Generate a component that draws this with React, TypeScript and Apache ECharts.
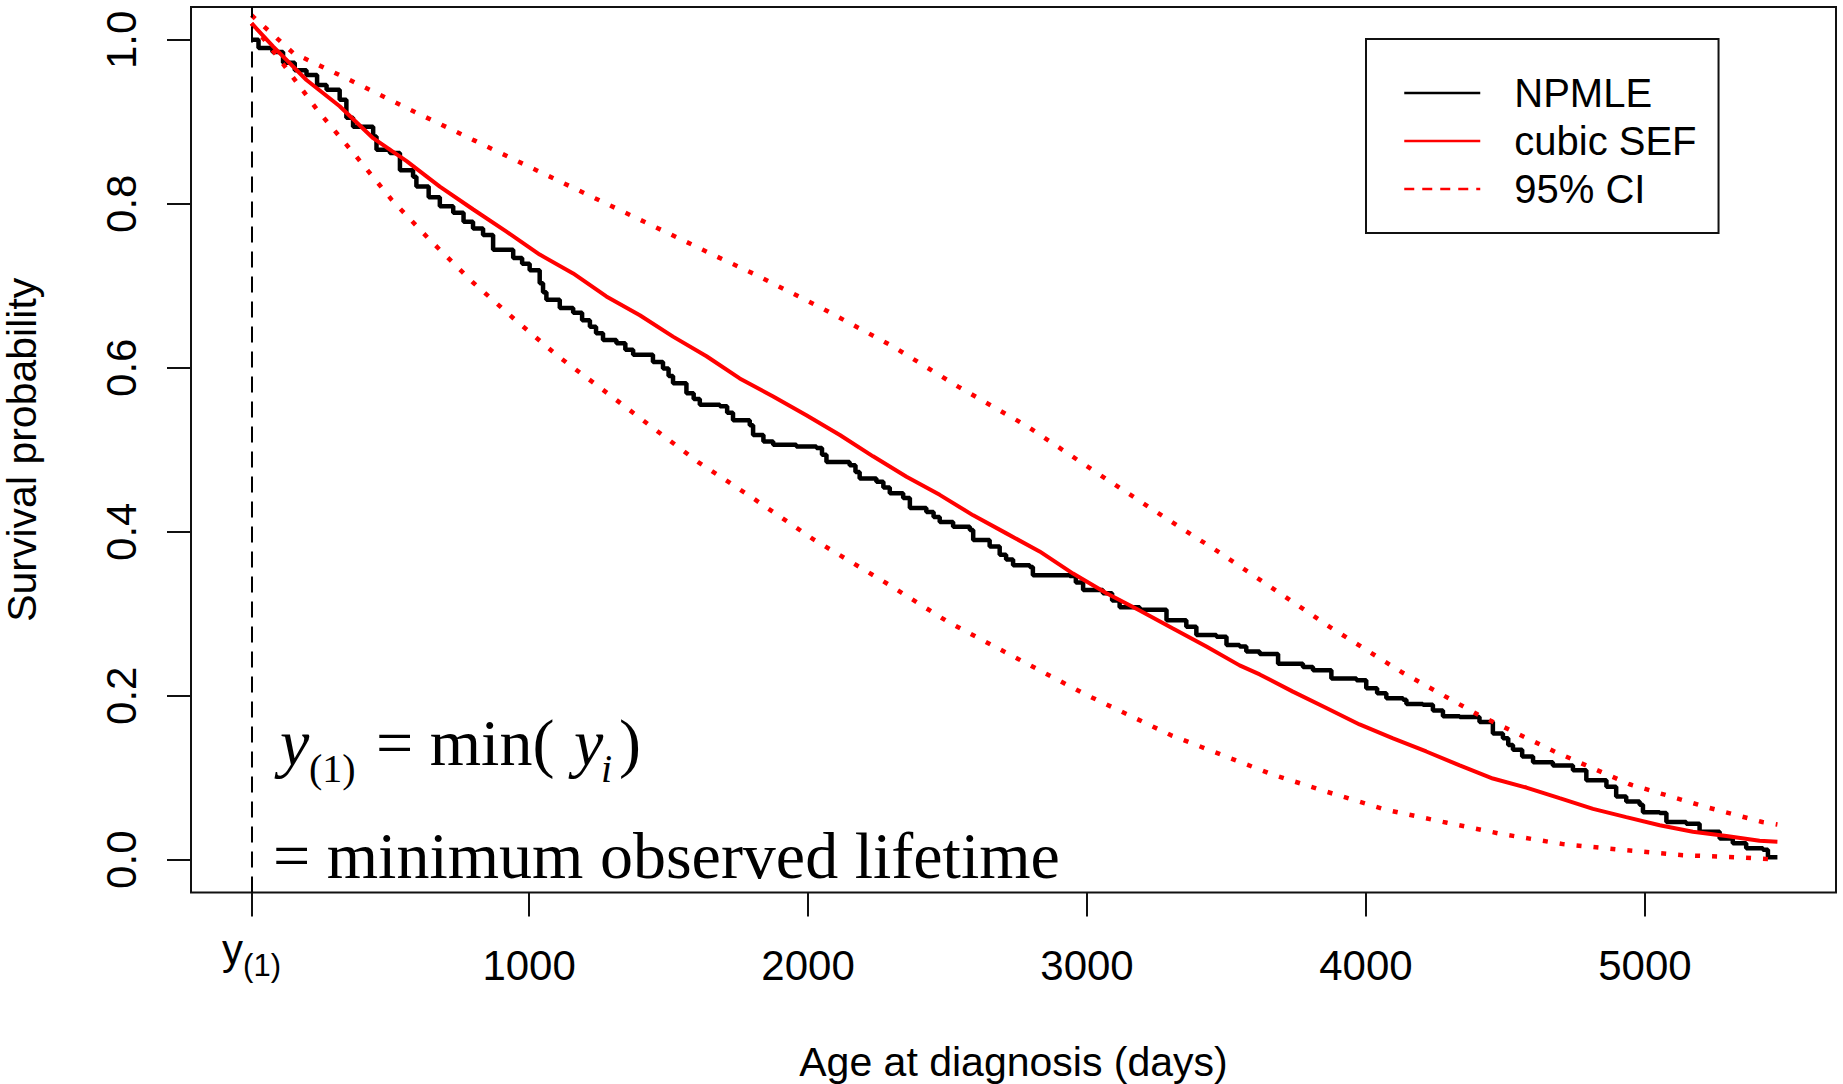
import React, { useEffect, useRef } from "react";
import * as echarts from "echarts";

// ---------- data ----------
const Y1 = 5; // minimum observed lifetime (days)
const xTickValues = [Y1, 1000, 2000, 3000, 4000, 5000];
const yTickValues = [0, 0.2, 0.4, 0.6, 0.8, 1.0];

// NPMLE step function: [time, survival after that time]
const npmle: [number, number][] = [
  [5, 1.0], [30, 0.99], [80, 0.985], [118, 0.972], [160, 0.963], [202, 0.957], [240, 0.945],
  [274, 0.939], [321, 0.927], [345, 0.905], [369, 0.894], [441, 0.882], [453, 0.866], [501, 0.862],
  [537, 0.841], [584, 0.833], [596, 0.821], [640, 0.808], [680, 0.797], [728, 0.789], [765, 0.778],
  [799, 0.77], [835, 0.762], [871, 0.744], [943, 0.734], [975, 0.727], [1002, 0.719], [1038, 0.703],
  [1050, 0.692], [1062, 0.683], [1110, 0.673], [1158, 0.667], [1190, 0.658], [1218, 0.65],
  [1240, 0.642], [1265, 0.634], [1313, 0.63], [1345, 0.622], [1373, 0.616], [1444, 0.607],
  [1480, 0.599], [1500, 0.59], [1516, 0.581], [1564, 0.569], [1590, 0.562], [1612, 0.555],
  [1684, 0.553], [1710, 0.545], [1731, 0.536], [1791, 0.53], [1803, 0.518], [1840, 0.51],
  [1875, 0.506], [1958, 0.504], [2030, 0.502], [2050, 0.494], [2066, 0.485], [2149, 0.481],
  [2170, 0.473], [2185, 0.465], [2245, 0.461], [2270, 0.454], [2293, 0.447], [2341, 0.441],
  [2365, 0.429], [2424, 0.424], [2450, 0.418], [2472, 0.412], [2520, 0.406], [2580, 0.402],
  [2592, 0.39], [2651, 0.382], [2687, 0.372], [2710, 0.366], [2735, 0.359], [2795, 0.357],
  [2806, 0.347], [2938, 0.346], [2960, 0.338], [2986, 0.329], [3057, 0.325], [3090, 0.316],
  [3117, 0.308], [3189, 0.305], [3285, 0.292], [3356, 0.284], [3392, 0.274], [3464, 0.272],
  [3500, 0.262], [3547, 0.26], [3571, 0.254], [3619, 0.251], [3685, 0.239], [3774, 0.235],
  [3810, 0.231], [3876, 0.221], [3966, 0.219], [4001, 0.209], [4040, 0.203], [4073, 0.197],
  [4133, 0.195], [4145, 0.19], [4204, 0.189], [4240, 0.182], [4276, 0.175], [4336, 0.174],
  [4407, 0.168], [4455, 0.154], [4491, 0.148], [4510, 0.14], [4527, 0.134], [4560, 0.126],
  [4599, 0.119], [4670, 0.115], [4742, 0.109], [4790, 0.097], [4862, 0.089], [4897, 0.077],
  [4933, 0.071], [4981, 0.067], [4993, 0.058], [5053, 0.057], [5077, 0.046], [5148, 0.044],
  [5196, 0.034], [5268, 0.026], [5315, 0.02], [5363, 0.014], [5423, 0.012], [5441, 0.003],
  [5475, 0.003],
];

// cubic SEF fitted survival curve
const cubicSEF: [number, number][] = [
  [5, 1.02], [82, 0.992], [202, 0.951], [321, 0.919], [441, 0.88], [561, 0.852], [680, 0.821],
  [800, 0.793], [919, 0.766], [1038, 0.738], [1158, 0.715], [1277, 0.687], [1397, 0.664],
  [1516, 0.638], [1636, 0.614], [1755, 0.587], [1875, 0.565], [1994, 0.542], [2114, 0.518],
  [2233, 0.492], [2353, 0.467], [2472, 0.445], [2592, 0.42], [2711, 0.398], [2830, 0.376],
  [2950, 0.349], [3070, 0.325], [3189, 0.304], [3308, 0.282], [3428, 0.26], [3547, 0.237],
  [3619, 0.226], [3738, 0.205], [3858, 0.185], [3977, 0.165], [4097, 0.148], [4216, 0.132],
  [4336, 0.115], [4455, 0.099], [4575, 0.088], [4694, 0.075], [4814, 0.062], [4933, 0.052],
  [5053, 0.042], [5172, 0.034], [5292, 0.029], [5411, 0.023], [5475, 0.022],
];

// 95% CI bounds
const ciUpper: [number, number][] = [
  [5, 1.03], [154, 0.984], [345, 0.953], [578, 0.914], [805, 0.877], [1026, 0.841], [1253, 0.804],
  [1475, 0.768], [1683, 0.734], [1803, 0.715], [2048, 0.673], [2299, 0.627], [2538, 0.577],
  [2789, 0.528], [2986, 0.483], [3249, 0.424], [3482, 0.373], [3631, 0.339], [3870, 0.284],
  [4127, 0.229], [4401, 0.177], [4682, 0.131], [4945, 0.092], [5222, 0.064], [5421, 0.046],
  [5475, 0.043],
];
const ciLower: [number, number][] = [
  [5, 1.02], [106, 0.976], [244, 0.913], [375, 0.86], [507, 0.805], [644, 0.756], [799, 0.704],
  [955, 0.657], [1104, 0.614], [1265, 0.573], [1439, 0.528], [1606, 0.485], [1785, 0.445],
  [2018, 0.391], [2287, 0.336], [2502, 0.29], [2741, 0.247], [2992, 0.202], [3300, 0.152],
  [3664, 0.104], [3858, 0.083], [4071, 0.061], [4291, 0.045], [4491, 0.031], [4706, 0.019],
  [4918, 0.012], [5136, 0.0055], [5345, 0.0027], [5475, 0.0],
];

const legendNames = ["NPMLE", "cubic SEF", "95% CI"];

// ---------- styling ----------
const AXISFONT = "'Liberation Sans Narrow', 'Arial Narrow', 'Liberation Sans', Arial, sans-serif";
const SANS = "'Liberation Sans', Arial, sans-serif";
const SERIF = "'Liberation Serif', 'Times New Roman', serif";
const INK = "#111";

export default function App() {
  const ref = useRef<HTMLDivElement>(null);

  useEffect(() => {
    if (!ref.current) return;
    const chart = echarts.init(ref.current, undefined, { renderer: "svg" });

    const serifText = (
      text: string, x: number, y: number, size: number, italic = false
    ) => ({
      type: "text",
      x,
      y,
      silent: true,
      style: {
        text,
        fontFamily: SERIF,
        fontSize: size,
        fontStyle: italic ? "italic" : "normal",
        fill: "#000",
        align: "left",
        verticalAlign: "middle",
      },
    });

    chart.setOption({
      animation: false,
      backgroundColor: "#fff",
      grid: {
        left: 191,
        top: 7,
        right: 7,
        bottom: 191.5,
        containLabel: false,
        outerBoundsMode: "none",
        show: true,
        borderColor: INK,
        borderWidth: 2,
        backgroundColor: "transparent",
      },
      legend: {
        orient: "vertical",
        left: 1366,
        top: 39,
        padding: [34, 22, 24, 37],
        borderColor: INK,
        borderWidth: 2,
        itemWidth: 76,
        itemHeight: 40,
        itemGap: 8,
        selectedMode: false,
        itemStyle: { opacity: 0, borderWidth: 0 },
        textStyle: {
          fontFamily: SANS,
          fontSize: 40,
          color: "#000",
          padding: [0, 0, 0, 29],
        },
        data: [
          { name: legendNames[0], lineStyle: { width: 2.5 }, itemStyle: { opacity: 0 } },
          { name: legendNames[1], lineStyle: { width: 2.5 }, itemStyle: { opacity: 0 } },
          { name: legendNames[2], lineStyle: { width: 2.5, type: [10, 8] }, itemStyle: { opacity: 0 } },
        ],
      },
      xAxis: {
        type: "value",
        min: -212,
        max: 5685,
        splitLine: { show: false },
        axisLine: { show: false, onZero: false },
        axisTick: {
          show: true,
          inside: false,
          length: 24,
          customValues: xTickValues,
          lineStyle: { color: INK, width: 2 },
        },
        axisLabel: {
          customValues: xTickValues,
          formatter: (v: number) => (v === Y1 ? "{y|y}{s|(1)}" : String(v)),
          margin: 73,
          fontFamily: AXISFONT,
          fontSize: 42,
          color: "#000",
          verticalAlign: "middle",
          rich: {
            y: { fontFamily: AXISFONT, fontSize: 42, color: "#000", padding: [0, 0, 32, 0], verticalAlign: "middle" },
            s: { fontFamily: AXISFONT, fontSize: 31, color: "#000", verticalAlign: "middle" },
          },
        },
        name: "Age at diagnosis (days)",
        nameLocation: "middle",
        nameGap: 169,
        nameTextStyle: {
          fontFamily: AXISFONT,
          fontSize: 41,
          color: "#000",
          verticalAlign: "middle",
        },
      },
      yAxis: {
        type: "value",
        min: -0.04,
        max: 1.04,
        splitLine: { show: false },
        axisLine: { show: false, onZero: false },
        axisTick: {
          show: true,
          inside: false,
          length: 24,
          customValues: yTickValues,
          lineStyle: { color: INK, width: 2 },
        },
        axisLabel: {
          customValues: yTickValues,
          formatter: (v: number) => v.toFixed(1),
          rotate: 90,
          margin: 70,
          align: "center",
          verticalAlign: "middle",
          fontFamily: AXISFONT,
          fontSize: 42,
          color: "#000",
        },
        name: "Survival probability",
        nameLocation: "middle",
        nameGap: 169,
        nameTextStyle: {
          fontFamily: AXISFONT,
          fontSize: 41,
          color: "#000",
          verticalAlign: "middle",
          align: "center",
        },
      },
      series: [
        {
          name: legendNames[0],
          type: "line",
          step: "end",
          data: npmle,
          symbol: "none",
          lineStyle: { color: "#000", width: 4.5 },
          itemStyle: { color: "#000" },
          z: 2,
          markLine: {
            silent: true,
            symbol: ["none", "none"],
            label: { show: false },
            lineStyle: { color: "#000", width: 2, type: [16, 9] },
            data: [{ xAxis: Y1 }],
          },
        },
        {
          name: legendNames[1],
          type: "line",
          data: cubicSEF,
          symbol: "none",
          lineStyle: { color: "#ff0000", width: 4 },
          itemStyle: { color: "#ff0000" },
          z: 3,
        },
        {
          name: legendNames[2],
          type: "line",
          data: ciUpper,
          symbol: "none",
          lineStyle: { color: "#ff0000", width: 4.5, type: [5, 12] },
          itemStyle: { color: "#ff0000" },
          z: 3,
        },
        {
          name: legendNames[2],
          type: "line",
          data: ciLower,
          symbol: "none",
          lineStyle: { color: "#ff0000", width: 4.5, type: [5, 12] },
          itemStyle: { color: "#ff0000" },
          z: 3,
        },
      ],
      graphic: [
        serifText("y", 280, 742, 66, true),
        serifText("(1)", 309, 768, 40),
        serifText("= min(", 376, 742, 66),
        serifText("y", 574, 742, 66, true),
        serifText("i", 601, 768, 40, true),
        serifText(")", 619, 742, 66),
        serifText("= minimum observed lifetime", 273, 855, 66),
      ],
    });

    return () => chart.dispose();
  }, []);

  return (
    <div
      ref={ref}
      style={{ position: "fixed", left: 0, top: 0, width: 1843, height: 1084, background: "#fff" }}
    />
  );
}
